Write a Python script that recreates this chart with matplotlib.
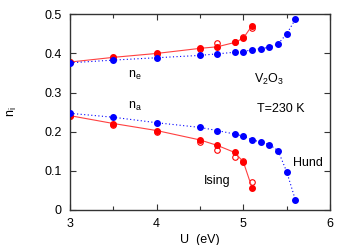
import matplotlib
matplotlib.use("Agg")
import matplotlib.pyplot as plt
from matplotlib.ticker import MultipleLocator

plt.rcParams['font.family'] = ['Liberation Sans', 'DejaVu Sans']

# Hund (blue, filled, dotted line)
U_hund = [3.0, 3.5, 4.0, 4.5, 4.7, 4.9, 5.0, 5.1, 5.2, 5.3, 5.4, 5.5, 5.6]
ne_hund = [0.376, 0.383, 0.389, 0.395, 0.399, 0.403, 0.404, 0.410, 0.412, 0.416, 0.424, 0.450, 0.487]
na_hund = [0.247, 0.237, 0.223, 0.211, 0.203, 0.194, 0.189, 0.179, 0.174, 0.167, 0.152, 0.098, 0.026]

# Ising (red, filled, solid line)
U_ising = [3.0, 3.5, 4.0, 4.5, 4.7, 4.9, 5.0, 5.1]
ne_ising = [0.378, 0.390, 0.400, 0.413, 0.417, 0.428, 0.439, 0.471]
na_ising = [0.241, 0.221, 0.203, 0.179, 0.165, 0.147, 0.123, 0.057]

# Ising (red, open circles)
U_open = [3.0, 3.5, 4.0, 4.5, 4.7, 4.9, 5.0, 5.1]
ne_open = [0.378, 0.389, 0.399, 0.412, 0.426, 0.428, 0.441, 0.465]
na_open = [0.241, 0.217, 0.199, 0.174, 0.153, 0.136, 0.124, 0.072]

fig = plt.figure(figsize=(3.54, 2.45), dpi=100)
ax = fig.add_axes([70/354, 1-210/245, 260/354, 195.7/245])

ms = 4.0
for ys in (ne_hund, na_hund):
    ax.plot(U_hund, ys, color='blue', linestyle=(0, (1.0, 2.2)), linewidth=0.8,
            marker='o', markersize=ms, markerfacecolor='blue', markeredgecolor='blue', zorder=3)
for ys in (ne_open, na_open):
    ax.plot(U_open, ys, linestyle='none', marker='o', markersize=ms,
            markerfacecolor='none', markeredgecolor='red', markeredgewidth=0.8, zorder=2)
for ys in (ne_ising, na_ising):
    ax.plot(U_ising, ys, color='#ff4040', linestyle='-', linewidth=0.8,
            marker='o', markersize=ms, markerfacecolor='red', markeredgecolor='red', zorder=2)

fs = 9
ax.set_xlim(3, 6)
ax.set_ylim(0, 0.5)
ax.xaxis.set_minor_locator(MultipleLocator(0.5))
ax.set_xticks([3, 4, 5, 6])
ax.set_xticklabels(['3', '4', '5', '6'])
ax.set_yticks([0, 0.1, 0.2, 0.3, 0.4, 0.5])
ax.set_yticklabels(['0', '0.1', '0.2', '0.3', '0.4', '0.5'])
ax.tick_params(which='both', direction='in', top=True, right=True, labelsize=fs,
               width=0.8, color='#333333')
ax.tick_params(axis='x', which='major', length=4.5, pad=6)
ax.tick_params(axis='y', which='major', length=4.5, pad=6)
ax.tick_params(which='minor', length=3)
for s in ax.spines.values():
    s.set_linewidth(1.0)
    s.set_color('#333333')

ax.set_xlabel('U  (eV)', fontsize=fs, labelpad=3)
ax.set_ylabel(r'n$_\mathregular{i}$', fontsize=fs, labelpad=18)

ax.text(3.75, 0.345, r'n$_\mathregular{e}$', fontsize=fs, ha='center', va='center')
ax.text(3.75, 0.265, r'n$_\mathregular{a}$', fontsize=fs, ha='center', va='center')
ax.text(5.3, 0.333, r'V$_\mathregular{2}$O$_\mathregular{3}$', fontsize=fs, ha='center', va='center')
ax.text(5.43, 0.259, 'T=230 K', fontsize=fs, ha='center', va='center')
ax.text(4.7, 0.075, 'Ising', fontsize=fs, ha='center', va='center')
ax.text(5.75, 0.12, 'Hund', fontsize=fs, ha='center', va='center')

fig.savefig('out.png', dpi=100)
